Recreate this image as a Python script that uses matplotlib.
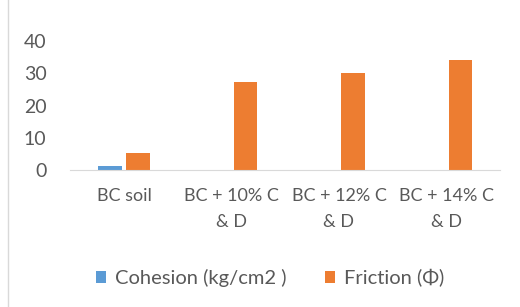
import matplotlib.pyplot as plt
import numpy as np
from matplotlib.lines import Line2D

categories = ['BC soil', 'BC + 10% C\n& D', 'BC + 12% C\n& D', 'BC + 14% C\n& D']
cohesion = [1.3, 0, 0, 0]
friction = [5.4, 27.3, 30.0, 34.3]
yticks = [0, 10, 20, 30, 40]

plt.rcParams['font.family'] = ['Lato', 'DejaVu Sans']
grey = '#595959'

fig = plt.figure(figsize=(5.2, 3.07), dpi=100)
ax = fig.add_axes([0.135, 0.446, 0.827, 0.420])

x = np.arange(len(categories))
w = 0.22
ax.bar(x - 0.13, cohesion, w, color='#5B9BD5', label='Cohesion (kg/cm2 )')
ax.bar(x + 0.13, friction, w, color='#ED7D31', label='Friction (\u03a6)')

ax.set_xlim(-0.5, 3.5)
ax.set_ylim(0, 40)
ax.set_yticks(yticks)
ax.set_xticks(x)
ax.set_xticklabels(categories, fontsize=13, color=grey, linespacing=1.75)
ax.tick_params(axis='y', labelsize=14, colors=grey, length=0, pad=17)
ax.tick_params(axis='x', length=0, pad=13)
for s in ['top', 'right', 'left']:
    ax.spines[s].set_visible(False)
ax.spines['bottom'].set_color('#d9d9d9')

fig.legend(loc='center', bbox_to_anchor=(0.52, 0.094), ncol=2, frameon=False,
           fontsize=14.5, labelcolor=grey, handlelength=0.5, handleheight=0.5,
           handletextpad=0.45, columnspacing=1.9)

fig.add_artist(Line2D([0.016, 0.016], [0, 1], color='#d9d9d9', lw=1))

fig.savefig('out.png', dpi=100)
